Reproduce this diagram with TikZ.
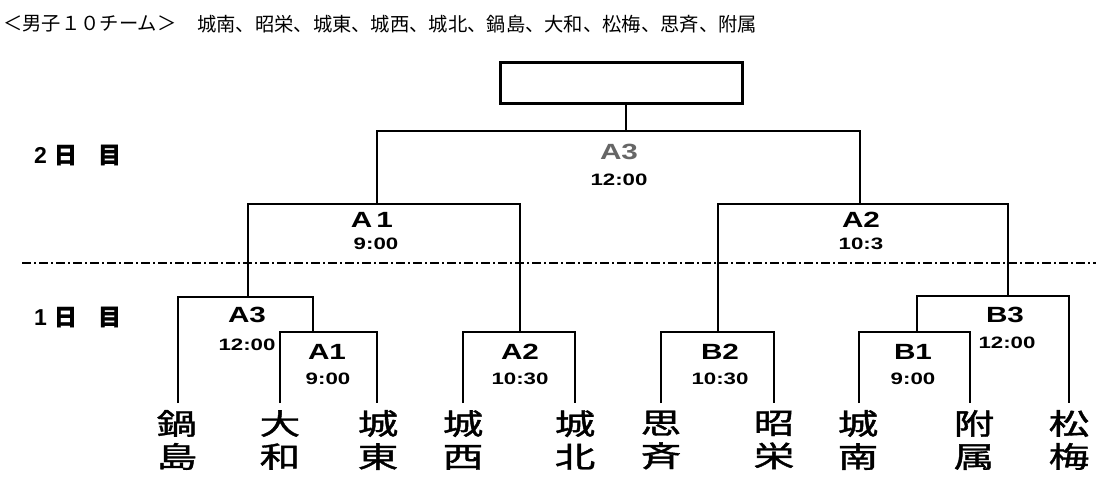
\documentclass[tikz,border=0pt]{standalone}
\usepackage{fontspec}
\setmainfont{Liberation Sans}
\newfontfamily\cjk{Noto Sans CJK JP}
\newfontfamily\cjkb[FakeBold=1.2]{Noto Sans CJK JP}
\newcommand\tmname[2]{\scalebox{1.4}[1]{#1}\\\scalebox{1.4}[1]{#2}}
\newcommand\wide[1]{\scalebox{1.35}[1]{#1}}
\begin{document}
\begin{tikzpicture}[x=1pt,y=1pt,
  line/.style={line width=1.8pt},
  team/.style={font=\cjkb\fontsize{29}{33}\selectfont, align=center, inner sep=0pt},
  game/.style={font=\bfseries\fontsize{22}{22}\selectfont, inner sep=0pt},
  gtime/.style={font=\bfseries\fontsize{16.5}{16.5}\selectfont, inner sep=0pt},
  daylbl/.style={font=\bfseries\fontsize{23}{23}\selectfont, inner sep=0pt, anchor=west},
  title/.style={font=\cjk\fontsize{19.3}{19.3}\selectfont, inner sep=0pt, anchor=west}]
\useasboundingbox (0,0) rectangle (1100,-486);
\fill[white] (0,0) rectangle (1100,-486);

% title
\node[title] (ttl) at (3,-24) {＜男子１０チーム＞};
\node[title] (lst) at (197,-24) {城南、昭栄、城東、城西、城北、鍋島、大和、松梅、思斉、附属};

% day labels
\node[daylbl] (d2) at (34,-155) {2{\cjkb\hspace{7pt}日\hspace{21pt}目}};
\node[daylbl] (d1) at (34,-317) {1{\cjkb\hspace{7pt}日\hspace{21pt}目}};

% dash-dot separator
\coordinate (sepL) at (22,-263);
\coordinate (sepR) at (1096,-263);
\draw[line width=1.1pt, dash pattern=on 9pt off 3pt on 2pt off 3pt] (sepL) -- (sepR);

% teams
\node[team] (n1) at (177,-440) {\tmname{鍋}{島}};
\node[team] (n2) at (280,-440) {\tmname{大}{和}};
\node[team] (n3) at (378,-440) {\tmname{城}{東}};
\node[team] (n4) at (463,-440) {\tmname{城}{西}};
\node[team] (n5) at (575,-440) {\tmname{城}{北}};
\node[team] (n6) at (661,-440) {\tmname{思}{斉}};
\node[team] (n7) at (774,-440) {\tmname{昭}{栄}};
\node[team] (n8) at (858,-440) {\tmname{城}{南}};
\node[team] (n9) at (974,-440) {\tmname{附}{属}};
\node[team] (n10) at (1069,-440) {\tmname{松}{梅}};

% leg ends
\coordinate (t1) at (178,-403);
\coordinate (t2) at (280,-403);
\coordinate (t3) at (377,-403);
\coordinate (t4) at (463,-403);
\coordinate (t5) at (575,-403);
\coordinate (t6) at (661,-403);
\coordinate (t7) at (774,-403);
\coordinate (t8) at (859,-403);
\coordinate (t9) at (970,-403);
\coordinate (t10) at (1069,-403);

% junctions
\coordinate (mA1) at (313,-332);
\coordinate (mA3) at (248,-297);
\coordinate (mA2) at (520,-332);
\coordinate (mB2) at (718,-332);
\coordinate (mB1) at (917,-332);
\coordinate (mB3) at (1008,-296);
\coordinate (mA1b) at (377,-204);
\coordinate (mA2b) at (860,-204);
\coordinate (mF) at (626,-131);

% champion box
\node[draw, line width=2.2pt, minimum width=242pt, minimum height=41pt, inner sep=0pt] (box) at (621.5,-83) {};

% brackets
\draw[line] (t2) |- (mA1) -| (t3);
\draw[line] (t1) |- (mA3) -| (mA1);
\draw[line] (t4) |- (mA2) -| (t5);
\draw[line] (t6) |- (mB2) -| (t7);
\draw[line] (t8) |- (mB1) -| (t9);
\draw[line] (mB1) |- (mB3) -| (t10);
\draw[line] (mA3) |- (mA1b) -| (mA2);
\draw[line] (mB2) |- (mA2b) -| (mB3);
\draw[line] (mA1b) |- (mF) -| (mA2b);
\draw[line] (mF) -- (mF |- box.south);

% game labels
\node[game] (gA1) at (327,-352) {\wide{A1}};
\node[gtime] (tA1) at (328,-379) {\wide{9:00}};
\node[game] (gA3) at (247,-315) {\wide{A3}};
\node[gtime] (tA3) at (247,-345) {\wide{12:00}};
\node[game] (gA2) at (520,-352) {\wide{A2}};
\node[gtime] (tA2) at (520,-379) {\wide{10:30}};
\node[game] (gB2) at (720,-352) {\wide{B2}};
\node[gtime] (tB2) at (720,-379) {\wide{10:30}};
\node[game] (gB1) at (913,-352) {\wide{B1}};
\node[gtime] (tB1) at (913,-379) {\wide{9:00}};
\node[game] (gB3) at (1005,-315) {\wide{B3}};
\node[gtime] (tB3) at (1007,-343) {\wide{12:00}};
\node[game] (gA1b) at (372,-220) {\wide{A\hspace{3pt}1}};
\node[gtime] (tA1b) at (376,-244) {\wide{9:00}};
\node[game] (gA2b) at (861,-220) {\wide{A2}};
\node[gtime] (tA2b) at (861,-244) {\wide{10:3}};
\node[game, text=black!60] (gF) at (619,-152) {\wide{A3}};
\node[gtime] (tF) at (619,-180) {\wide{12:00}};
\end{tikzpicture}
\end{document}
